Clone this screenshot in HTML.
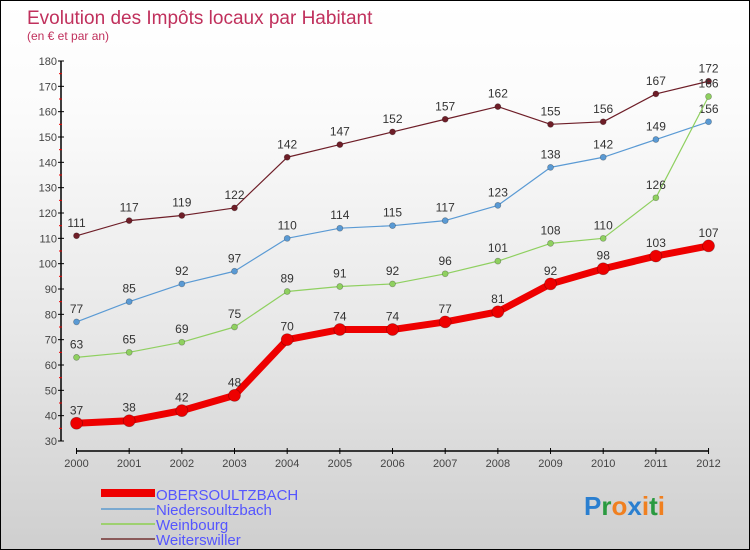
<!DOCTYPE html>
<html><head><meta charset="utf-8"><style>
body{margin:0}
#c{width:748px;height:548px;border:1px solid #000;background:linear-gradient(#fff,#fbfbfb 20%,#e8e8e8 60%,#cfcfcf);position:relative;overflow:hidden;font-family:"Liberation Sans",sans-serif}
text{font-family:"Liberation Sans",sans-serif}
</style></head><body>
<div id="c">
<svg id="s" width="748" height="548">
<text x="26" y="23" font-size="19" fill="#c0305c">Evolution des Impôts locaux par Habitant</text>
<text x="26" y="39" font-size="12" fill="#c0305c">(en € et par an)</text>
<g id="axes"></g><g id="series"></g>
<g>
<rect x="100" y="488" width="54" height="8" fill="#e00"/>
<text x="155" y="499" font-size="15" fill="#55f">OBERSOULTZBACH</text>
<rect x="100" y="507" width="54" height="2" fill="#7aa9d0"/>
<text x="155" y="514" font-size="15" fill="#55f">Niedersoultzbach</text>
<rect x="100" y="522" width="54" height="2" fill="#9ed070"/>
<text x="155" y="529" font-size="15" fill="#55f">Weinbourg</text>
<rect x="100" y="537" width="54" height="2" fill="#8a5a5a"/>
<text x="155" y="544" font-size="15" fill="#55f">Weiterswiller</text>
</g>
<text x="583" y="514" font-size="26" font-weight="bold"><tspan fill="#2a7fd0">P</tspan><tspan fill="#2a9a40">r</tspan><tspan fill="#f08020">o</tspan><tspan fill="#2a7fd0">x</tspan><tspan fill="#f08020">i</tspan><tspan fill="#2a9a40">t</tspan><tspan fill="#f08020">i</tspan></text>
</svg></div>
<script>
const years=[2000,2001,2002,2003,2004,2005,2006,2007,2008,2009,2010,2011,2012];
const yTicks=[30,40,50,60,70,80,90,100,110,120,130,140,150,160,170,180];
const obersoultzbach=[37,38,42,48,70,74,74,77,81,92,98,103,107];
const niedersoultzbach=[77,85,92,97,110,114,115,117,123,138,142,149,156];
const weinbourg=[63,65,69,75,89,91,92,96,101,108,110,126,166];
const weiterswiller=[111,117,119,122,142,147,152,157,162,155,156,167,172];
const NS="http://www.w3.org/2000/svg";
const X=i=>75.5+i*52.67, Y=v=>440-(v-30)*(380/150);
function el(t,a,p){const e=document.createElementNS(NS,t);for(const k in a)e.setAttribute(k,a[k]);p.appendChild(e);return e;}
const ax=document.getElementById('axes'), sg=document.getElementById('series');
let a=el('line',{x1:60,y1:Y(180),x2:60,y2:440,stroke:'#000','stroke-width':1.5},ax);


a=el('line',{x1:75,y1:450,x2:708,y2:450,stroke:'#000','stroke-width':1.5},ax);


yTicks.forEach(v=>{el('line',{x1:57,x2:63,y1:Y(v),y2:Y(v),stroke:'#000'},ax);
 if(v<180)el('line',{x1:58,x2:61,y1:Y(v+5),y2:Y(v+5),stroke:'#e00'},ax);
 const t=el('text',{x:56,y:Y(v)+4,'font-size':11,fill:'#444','text-anchor':'end'},ax);t.textContent=v;
 
 });
years.forEach((y,i)=>{el('line',{x1:X(i),x2:X(i),y1:447,y2:453,stroke:'#000'},ax);
 const t=el('text',{x:X(i),y:466,'font-size':11,fill:'#444','text-anchor':'middle'},ax);t.textContent=y;
 
 });
function series(d,col,w,r,name){
 const p=el('polyline',{points:d.map((v,i)=>X(i)+','+Y(v)).join(' '),fill:'none',stroke:col,'stroke-width':w,'stroke-linejoin':'round'},sg);
 
 
 d.forEach((v,i)=>{const c=el('circle',{cx:X(i),cy:Y(v),r:r,fill:col,stroke:'rgba(0,0,0,0.3)','stroke-width':0.7},sg);
  
  
  const t=el('text',{x:X(i),y:Y(v)-9,'font-size':12,fill:'#333','text-anchor':'middle'},sg);t.textContent=v;
  
  });
}
series(weiterswiller,'#6e1e28',1.2,3,'weiterswiller');
series(niedersoultzbach,'#5a9ad4',1.2,3,'niedersoultzbach');
series(weinbourg,'#8fd060',1.2,3,'weinbourg');
series(obersoultzbach,'#ee0000',7,6,'obersoultzbach');
</script>
</body></html>
